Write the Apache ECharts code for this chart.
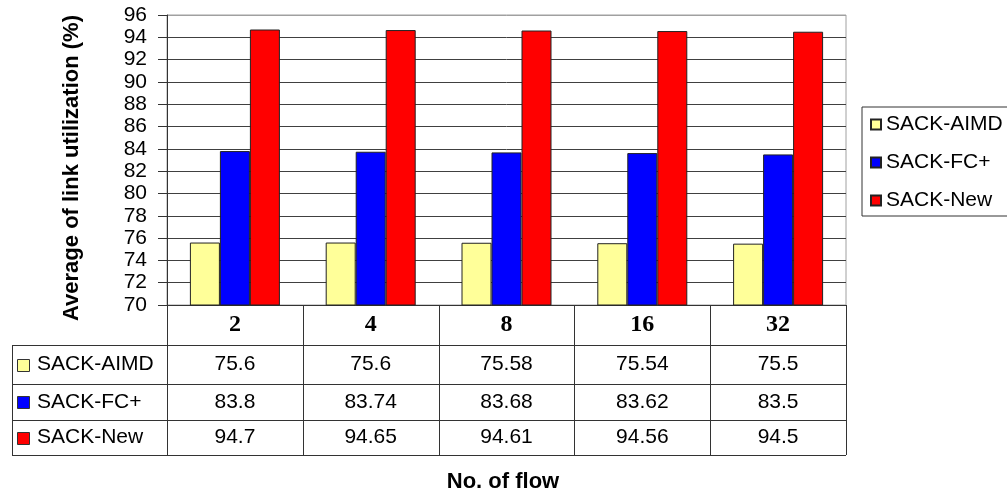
<!DOCTYPE html>
<html>
<head>
<meta charset="utf-8">
<script src="https://cdn.jsdelivr.net/npm/echarts@6/dist/echarts.min.js"></script>
<style>
  html, body { margin: 0; padding: 0; background: #fff; }
  #c { width: 1007px; height: 494px; }
</style>
</head>
<body>
<div id="c"></div>
<script>
// Average link utilization per number of flows
const flows = ['2', '4', '8', '16', '32'];
const seriesNames = ['SACK-AIMD', 'SACK-FC+', 'SACK-New'];
const aimd = [75.6, 75.6, 75.58, 75.54, 75.5];
const fcPlus = [83.8, 83.74, 83.68, 83.62, 83.5];
const sackNew = [94.7, 94.65, 94.61, 94.56, 94.5];
const yMin = 70, yMax = 96, yStep = 2;

const seriesValues = [aimd, fcPlus, sackNew];
const colors = ['#FFFF99', '#0000FF', '#FF0000'];
const SANS = '"Liberation Sans", Arial, sans-serif';
const SERIF = '"Liberation Serif", "Times New Roman", serif';
const LINE = '#333';

const GRID = { left: 167, top: 15, width: 679, height: 290 };
// data table row edges (header, then one row per series)
const TABLE_ROWS = [305, 345, 384, 420, 455];
const TABLE_LEFT = 12;

const chart = echarts.init(document.getElementById('c'), null, { renderer: 'canvas' });

const splitColors = [];
for (let v = yMin; v <= yMax; v += yStep) splitColors.push(v === yMax ? '#a0a0a0' : '#404040');

chart.setOption({
  animation: false,
  backgroundColor: '#fff',
  grid: {
    left: GRID.left, top: GRID.top, width: GRID.width, height: GRID.height,
    show: true, borderColor: '#a0a0a0', borderWidth: 1, backgroundColor: 'transparent'
  },
  xAxis: {
    type: 'category',
    data: flows,
    axisLine: { lineStyle: { color: LINE, width: 1 } },
    axisTick: { show: false },
    axisLabel: { show: false }
  },
  yAxis: {
    type: 'value',
    min: yMin, max: yMax, interval: yStep,
    axisLine: { show: true, lineStyle: { color: LINE, width: 1 } },
    axisTick: { show: true, length: 9, lineStyle: { color: LINE } },
    axisLabel: { fontSize: 21, fontFamily: SANS, color: '#000', margin: 20 },
    splitLine: { show: true, lineStyle: { color: splitColors, width: 1 } }
  },
  legend: {
    orient: 'vertical',
    left: 862, top: 107,
    icon: 'rect',
    itemWidth: 10, itemHeight: 10, itemGap: 17,
    padding: [7, 90, 5, 8],
    borderColor: LINE, borderWidth: 1, backgroundColor: '#fff',
    textStyle: { fontSize: 21, fontFamily: SANS, color: '#000', lineHeight: 20 },
    data: seriesNames
  },
  series: seriesNames.map((name, i) => ({
    name: name,
    type: 'bar',
    data: seriesValues[i],
    barWidth: 30,
    barGap: '0%',
    itemStyle: { color: colors[i], borderColor: '#222', borderWidth: 1 }
  }))
});

// Data table under the plot, columns aligned with the category axis
const centers = flows.map((f, i) => chart.convertToPixel({ xAxisIndex: 0 }, i));
const half = centers.length > 1 ? (centers[1] - centers[0]) / 2 : GRID.width / 2;
const bounds = [centers[0] - half].concat(centers.map(c => c + half));
const crisp = v => Math.round(v) + 0.5;
const right = bounds[bounds.length - 1];
const bottom = TABLE_ROWS[TABLE_ROWS.length - 1];

const g = [];
const line = (x1, y1, x2, y2) => g.push({
  type: 'line', silent: true,
  shape: { x1: x1, y1: y1, x2: x2, y2: y2 },
  style: { stroke: LINE, lineWidth: 1 }
});
const text = (x, y, s, font, align) => g.push({
  type: 'text', silent: true, x: x, y: y,
  style: {
    text: s, font: font, fill: '#000',
    align: align || 'center', verticalAlign: 'middle',
    textAlign: align || 'center', textVerticalAlign: 'middle'
  }
});

bounds.forEach(b => line(crisp(b), TABLE_ROWS[0], crisp(b), bottom));
TABLE_ROWS.slice(1).forEach(y => line(TABLE_LEFT, crisp(y), right, crisp(y)));
line(TABLE_LEFT + 0.5, TABLE_ROWS[1], TABLE_LEFT + 0.5, bottom);

const headerMid = (TABLE_ROWS[0] + TABLE_ROWS[1]) / 2;
flows.forEach((f, i) => text(centers[i], headerMid, f, 'bold 24px ' + SERIF));

seriesNames.forEach((name, r) => {
  const mid = (TABLE_ROWS[r + 1] + TABLE_ROWS[r + 2]) / 2;
  g.push({
    type: 'rect', silent: true,
    shape: { x: 17.5, y: Math.round(mid - 6) + 0.5, width: 12, height: 12 },
    style: { fill: colors[r], stroke: LINE, lineWidth: 1 }
  });
  text(37, mid, name, '21px ' + SANS, 'left');
  seriesValues[r].forEach((v, i) => text(centers[i], mid, String(v), '21px ' + SANS));
});

// axis titles
g.push({
  type: 'text', silent: true, x: 72, y: 168, rotation: Math.PI / 2,
  style: {
    text: 'Average of link utilization (%)', font: 'bold 22px ' + SANS, fill: '#000',
    align: 'center', verticalAlign: 'middle', textAlign: 'center', textVerticalAlign: 'middle'
  }
});
text(503, 482, 'No. of flow', 'bold 22px ' + SANS);

chart.setOption({ graphic: { elements: g } });
</script>
</body>
</html>
